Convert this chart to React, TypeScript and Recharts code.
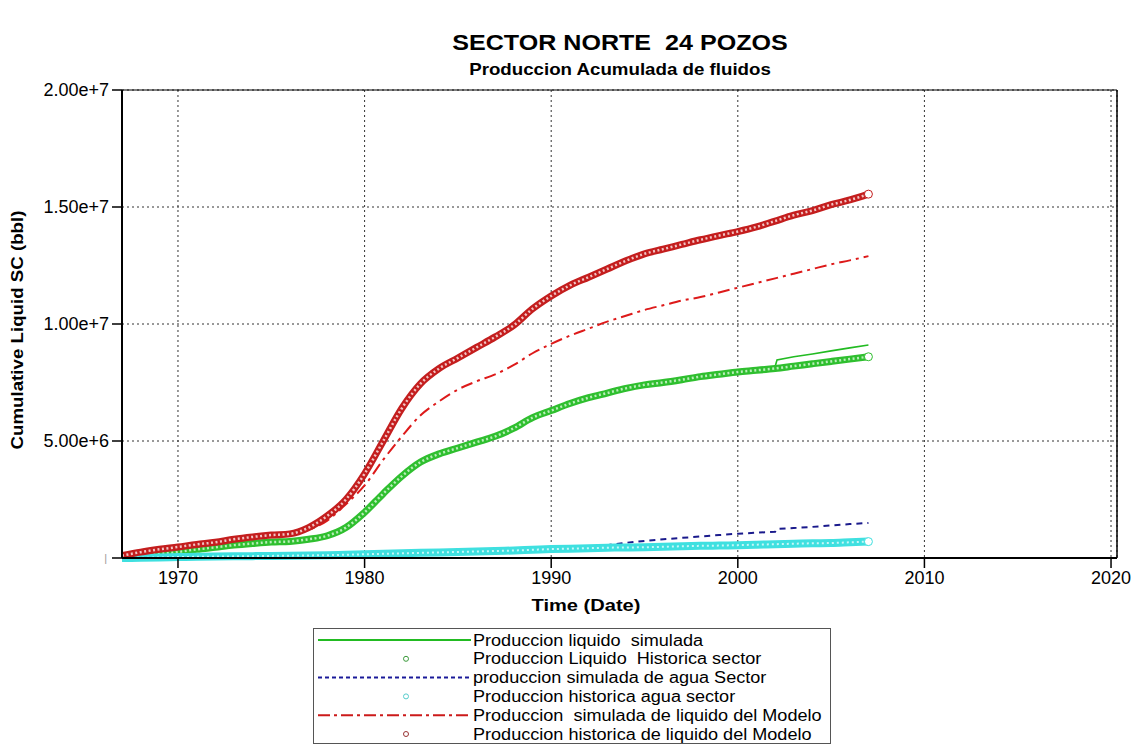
import { LineChart, Line, XAxis, YAxis, CartesianGrid, ReferenceLine } from "recharts";

const FONT = "'Liberation Sans', Arial, sans-serif";

// time axis (years); 2002.1 holds the step seen in the simulated curves
const years = [
  1967, 1968, 1969, 1970, 1971, 1972, 1973, 1974, 1975, 1976, 1977, 1978, 1979,
  1980, 1981, 1982, 1983, 1984, 1985, 1986, 1987, 1988, 1989, 1990, 1991, 1992,
  1993, 1994, 1995, 1996, 1997, 1998, 1999, 2000, 2001, 2002, 2002.1, 2003, 2004,
  2005, 2006, 2007,
];

// cumulative volumes in millions of bbl
const liqSimSector = [
  0.03, 0.1, 0.18, 0.27, 0.38, 0.47, 0.56, 0.63, 0.69, 0.72, 0.81, 0.96, 1.31,
  1.96, 2.76, 3.52, 4.12, 4.47, 4.72, 4.97, 5.22, 5.57, 6.02, 6.33, 6.63, 6.88,
  7.08, 7.28, 7.43, 7.54, 7.66, 7.79, 7.9, 8.0, 8.08, 8.18, 8.46, 8.6, 8.72,
  8.85, 8.98, 9.1,
];
const liqHistSector = [
  0.03, 0.1, 0.18, 0.26, 0.37, 0.46, 0.55, 0.62, 0.68, 0.71, 0.8, 0.95, 1.3,
  1.95, 2.75, 3.5, 4.1, 4.45, 4.7, 4.95, 5.2, 5.55, 6.0, 6.3, 6.6, 6.85, 7.05,
  7.25, 7.4, 7.5, 7.62, 7.75, 7.85, 7.95, 8.02, 8.1, null, 8.2, 8.3, 8.4, 8.5,
  8.6,
];
const aguaSimSector = [
  0, 0.01, 0.02, 0.04, 0.05, 0.06, 0.07, 0.08, 0.09, 0.1, 0.11, 0.12, 0.14,
  0.16, 0.18, 0.2, 0.22, 0.24, 0.26, 0.28, 0.3, 0.32, 0.35, 0.38, 0.4, 0.42,
  0.55, 0.65, 0.73, 0.8, 0.86, 0.92, 0.98, 1.04, 1.08, 1.12, 1.24, 1.28, 1.33,
  1.39, 1.45, 1.5,
];
const aguaHistSector = [
  0, 0.01, 0.02, 0.04, 0.05, 0.06, 0.07, 0.08, 0.09, 0.1, 0.11, 0.12, 0.14,
  0.16, 0.18, 0.2, 0.22, 0.24, 0.26, 0.28, 0.3, 0.32, 0.35, 0.38, 0.4, 0.42,
  0.44, 0.45, 0.46, 0.48, 0.5, 0.52, 0.53, 0.55, 0.57, 0.59, null, 0.61, 0.63,
  0.64, 0.67, 0.7,
];
const liqSimModelo = [
  0.1, 0.25, 0.36, 0.45, 0.56, 0.65, 0.78, 0.88, 0.95, 1.0, 1.2, 1.6, 2.3, 3.1,
  4.2, 5.2, 6.1, 6.7, 7.2, 7.55, 7.85, 8.25, 8.75, 9.15, 9.5, 9.8, 10.1, 10.35,
  10.6, 10.8, 11.0, 11.15, 11.35, 11.55, 11.75, 11.95, null, 12.15, 12.35,
  12.55, 12.72, 12.9,
];
const liqHistModelo = [
  0.1, 0.25, 0.37, 0.47, 0.58, 0.67, 0.8, 0.9, 0.98, 1.03, 1.3, 1.8, 2.5, 3.6,
  5.0, 6.4, 7.45, 8.1, 8.55, 9.0, 9.45, 9.95, 10.65, 11.2, 11.65, 12.0, 12.35,
  12.7, 13.0, 13.2, 13.4, 13.6, 13.78, 13.95, 14.15, 14.4, null, 14.65, 14.85,
  15.1, 15.3, 15.55,
];

const xTicks = [1970, 1980, 1990, 2000, 2010, 2020];
const yTicks = [0, 5, 10, 15, 20];

const data = years.map((t, i) => ({
  t,
  gs: liqSimSector[i],
  gh: liqHistSector[i],
  bs: aguaSimSector[i],
  ch: aguaHistSector[i],
  rs: liqSimModelo[i],
  rh: liqHistModelo[i],
}));

const last = years.length - 1;

function endDot(color: string) {
  return (p: any) =>
    p.index === last ? (
      <circle key={p.index} cx={p.cx} cy={p.cy} r={4} fill="#fff" stroke={color} strokeWidth={1} />
    ) : (
      <g key={p.index} />
    );
}

const fmtY = (v: number) => (v === 0 ? "0" : (v * 1e6).toExponential(2));

function YTick(p: any) {
  const v = p.payload.value;
  if (v === 0) {
    return (
      <text x={p.x - 2} y={p.y} dy="0.35em" textAnchor="end" fontSize={11} fill="#999" fontFamily={FONT}>
        |
      </text>
    );
  }
  return (
    <text x={p.x} y={p.y} dy="0.35em" textAnchor="end" fontSize={18} fill="#000" fontFamily={FONT}>
      {fmtY(v)}
    </text>
  );
}

const legendRows = [
  { label: "Produccion liquido  simulada", kind: "line", color: "#22bb22", dash: undefined },
  { label: "Produccion Liquido  Historica sector", kind: "dot", color: "#3a9a3a" },
  { label: "produccion simulada de agua Sector", kind: "line", color: "#1a1a99", dash: "4 3" },
  { label: "Produccion historica agua sector", kind: "dot", color: "#55cccc" },
  { label: "Produccion  simulada de liquido del Modelo", kind: "line", color: "#cc1a1a", dash: "12 4 3 4" },
  { label: "Produccion historica de liquido del Modelo", kind: "dot", color: "#993333" },
];

export default function App() {
  return (
    <div style={{ position: "absolute", left: 0, top: 0, width: 1146, height: 746, background: "#fff", fontFamily: FONT }}>
      <div style={{ position: "absolute", left: 620, top: 43, transform: "translate(-50%, -50%) scaleX(1.14)", fontWeight: "bold", fontSize: 22, whiteSpace: "pre" }}>
        SECTOR NORTE  24 POZOS
      </div>
      <div style={{ position: "absolute", left: 620, top: 70, transform: "translate(-50%, -50%) scaleX(1.1)", fontWeight: "bold", fontSize: 17, whiteSpace: "pre" }}>
        Produccion Acumulada de fluidos
      </div>

      <LineChart width={1146} height={746} data={data} margin={{ top: 90, right: 29, left: 0, bottom: 148 }}>
        <CartesianGrid stroke="#333" strokeDasharray="2 3" strokeWidth={1} />
        <XAxis
          dataKey="t"
          type="number"
          domain={[1967, 2020.32]}
          allowDataOverflow
          ticks={xTicks}
          height={40}
          tickSize={10}
          tickMargin={3}
          axisLine={{ stroke: "#000", strokeWidth: 2 }}
          tickLine={{ stroke: "#000", strokeWidth: 1.5 }}
          tick={{ fill: "#000", fontSize: 18, fontFamily: FONT }}
        />
        <YAxis
          type="number"
          domain={[0, 20]}
          ticks={yTicks}
          width={122}
          tickSize={10}
          tickMargin={3}
          axisLine={{ stroke: "#000", strokeWidth: 2 }}
          tickLine={{ stroke: "#000", strokeWidth: 1.5 }}
          tick={<YTick />}
        />
        <ReferenceLine y={20} stroke="#000" strokeWidth={1} />
        <ReferenceLine x={2020.32} stroke="#000" strokeWidth={1.5} />

        <Line type="linear" dataKey="gs" stroke="#22bb22" strokeWidth={1.6} dot={false} connectNulls isAnimationActive={false} />
        <Line type="linear" dataKey="bs" stroke="#1a1a8c" strokeWidth={2} strokeDasharray="6 5" dot={false} connectNulls isAnimationActive={false} />
        <Line type="monotone" dataKey="rs" stroke="#dd1a1a" strokeWidth={2} strokeDasharray="12 5 3 5" dot={false} connectNulls isAnimationActive={false} />

        <Line type="monotone" dataKey="gh" stroke="#2fbf2f" strokeWidth={7} dot={false} connectNulls isAnimationActive={false} />
        <Line type="monotone" dataKey="gh" stroke="#b9eeb9" strokeWidth={2.5} strokeDasharray="2 2.5" dot={endDot("#2fbf2f")} connectNulls isAnimationActive={false} />
        <Line type="monotone" dataKey="ch" stroke="#3fe0e0" strokeWidth={8} dot={false} connectNulls isAnimationActive={false} />
        <Line type="monotone" dataKey="ch" stroke="#c8f7f7" strokeWidth={2} strokeDasharray="2 3" dot={endDot("#3fe0e0")} connectNulls isAnimationActive={false} />
        <Line type="monotone" dataKey="rh" stroke="#c41e1e" strokeWidth={7} dot={false} connectNulls isAnimationActive={false} />
        <Line type="monotone" dataKey="rh" stroke="#f2c4c4" strokeWidth={2.5} strokeDasharray="2 2.5" dot={endDot("#c41e1e")} connectNulls isAnimationActive={false} />
      </LineChart>

      <div
        style={{
          position: "absolute", left: 18, top: 330, transform: "translate(-50%, -50%) rotate(-90deg) scaleX(1.1)",
          fontWeight: "bold", fontSize: 17, whiteSpace: "nowrap",
        }}
      >
        Cumulative Liquid SC (bbl)
      </div>
      <div style={{ position: "absolute", left: 586, top: 606, transform: "translate(-50%, -50%) scaleX(1.18)", fontWeight: "bold", fontSize: 17, whiteSpace: "nowrap" }}>
        Time (Date)
      </div>

      <div style={{ position: "absolute", left: 313, top: 628, width: 516, height: 114, border: "1px solid #555" }}>
        <svg width={516} height={114} style={{ position: "absolute", left: 0, top: 0 }}>
          {legendRows.map((r, i) => {
            const y = 11 + i * 18.8;
            return (
              <g key={i}>
                {r.kind === "line" ? (
                  <line x1={4} x2={157} y1={y} y2={y} stroke={r.color} strokeWidth={2} strokeDasharray={r.dash} />
                ) : (
                  <circle cx={92} cy={y} r={2.5} fill="none" stroke={r.color} strokeWidth={1} />
                )}
                <text
                  transform={`translate(159 ${y + 5.5}) scale(1.13 1)`}
                  fontSize={16}
                  fontFamily={FONT}
                  fill="#000"
                  style={{ whiteSpace: "pre" }}
                >
                  {r.label}
                </text>
              </g>
            );
          })}
        </svg>
      </div>
    </div>
  );
}
